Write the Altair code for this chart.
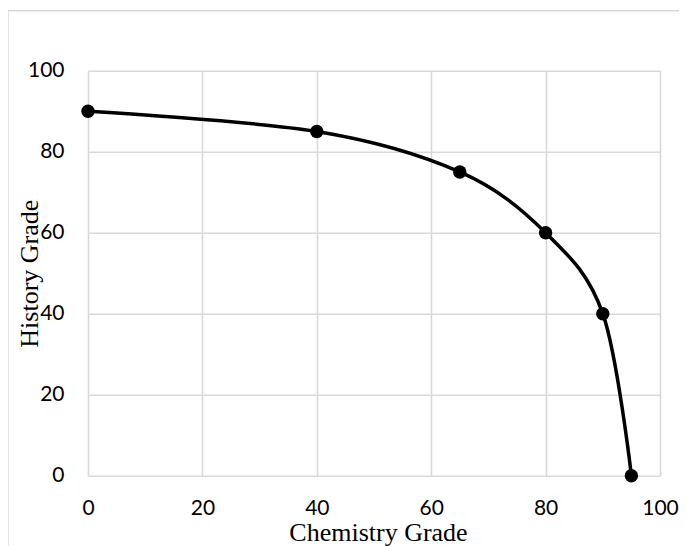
import altair as alt
import pandas as pd

# data
chem = [0, 40, 65, 80, 90, 95]
hist = [90, 85, 75, 60, 40, 0]
x_ticks = [0, 20, 40, 60, 80, 100]
y_ticks = [0, 20, 40, 60, 80, 100]

df = pd.DataFrame({"Chemistry Grade": chem, "History Grade": hist})
frame_df = pd.DataFrame({"k": [0]})

W, H = 572, 405
GRID = "#d9d9d9"

x_enc = alt.X(
    "Chemistry Grade:Q",
    scale=alt.Scale(domain=[0, 100], nice=False, zero=False),
    axis=alt.Axis(
        values=x_ticks, title="Chemistry Grade", grid=True, ticks=False, tickSize=0,
        domain=False, labelFont="Lato", labelFontSize=21, labelColor="#000",
        labelBaseline="alphabetic", labelPadding=38.5, labelFlush=False, labelOverlap=False,
        titleFont="Liberation Serif", titleFontSize=26, titleFontWeight="normal",
        titleColor="#000", titleX=W / 2 + 4, titleY=64.5, titleBaseline="alphabetic",
        titleAlign="center",
    ),
)
y_enc = alt.Y(
    "History Grade:Q",
    scale=alt.Scale(domain=[0, 100], nice=False, zero=False),
    axis=alt.Axis(
        values=y_ticks, title="History Grade", grid=True, ticks=False, tickSize=0,
        domain=False, labelFont="Lato", labelFontSize=21, labelColor="#000",
        labelPadding=24, labelFlush=False, labelOverlap=False,
        titleFont="Liberation Serif", titleFontSize=26, titleFontWeight="normal",
        titleColor="#000", titleX=-51, titleY=H / 2, titleBaseline="alphabetic",
        titleAlign="center", titleAngle=270,
    ),
)

line = alt.Chart(df).mark_line(
    color="#000", strokeWidth=3.5, interpolate="cardinal"
).encode(x=x_enc, y=y_enc)

pts = alt.Chart(df).mark_point(
    filled=True, color="#000", size=180, opacity=1
).encode(x="Chemistry Grade:Q", y="History Grade:Q")

frame_top = alt.Chart(frame_df).mark_rule(color=GRID, strokeWidth=1.4).encode(
    x=alt.value(-80), x2=alt.value(720), y=alt.value(-60)
)
frame_left = alt.Chart(frame_df).mark_rule(color=GRID, strokeWidth=1.4).encode(
    x=alt.value(-80), y=alt.value(-60), y2=alt.value(520)
)

chart = alt.layer(frame_top, frame_left, line, pts).properties(
    width=W, height=H,
    autosize=alt.AutoSizeParams(type="none"),
    padding={"left": 80, "top": 62.7, "right": 19, "bottom": 70},
).configure_view(strokeWidth=0).configure_axis(
    gridColor=GRID, gridWidth=1.6
)

chart.save("out.html", embed_options={"renderer": "svg", "actions": False})
